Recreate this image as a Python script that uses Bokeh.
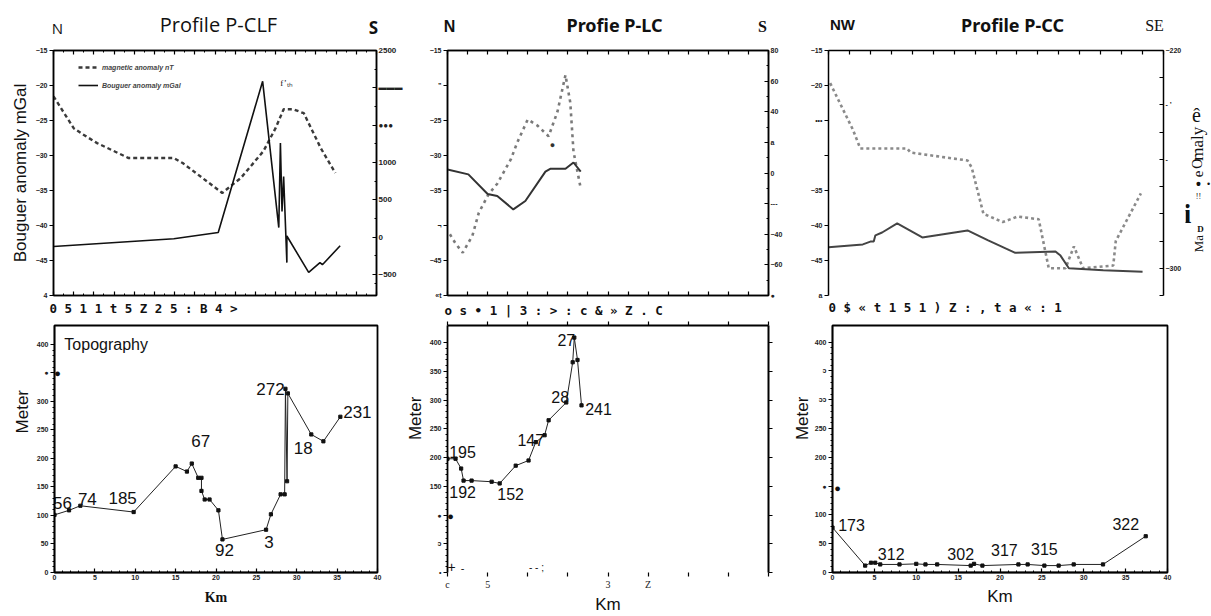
import math
from bokeh.plotting import figure
from bokeh.models import (Range1d, LinearAxis, FixedTicker, Legend, LegendItem,
                          ColumnDataSource)
from bokeh.layouts import column, row
from bokeh.embed import file_html
from bokeh.resources import INLINE
from bokeh.core.properties import value

# ------------------------------------------------------------------ data
km_ticks_top = [0, 2.5, 5, 7.5, 10, 12.5, 15, 17.5, 20, 22.5, 25, 27.5, 30, 32.5, 35, 37.5, 40]
km_ticks_bottom = [0, 5, 10, 15, 20, 25, 30, 35, 40]
mgal_ticks = [-15, -20, -25, -30, -35, -40, -45, -50]
meter_ticks = [0, 50, 100, 150, 200, 250, 300, 350, 400]

# Profile P-CLF
clf_bouguer_km = [0, 14.9, 20.4, 25.9, 27.9, 28.1, 28.3, 28.5, 28.9, 28.9, 31.6, 33.0, 33.3, 35.5]
clf_bouguer_mgal = [-43.0, -41.9, -41.0, -19.4, -40.3, -28.2, -38.0, -33.0, -45.3, -41.5,
                    -46.7, -45.3, -45.6, -42.9]
clf_mag_km = [0, 2.5, 3.6, 5.4, 9.3, 14.9, 16.0, 20.9, 23.2, 26.0, 27.5, 28.5, 29.7, 31.0, 33.1, 34.9]
clf_mag_nt = [1887, 1460, 1380, 1260, 1060, 1060, 993, 593, 793, 1153, 1460, 1713, 1713, 1660,
              1193, 860]
clf_mag_ticks = [2500, 2000, 1500, 1000, 500, 0, -500]
clf_topo_km = [0, 1.8, 3.2, 9.8, 15.0, 16.4, 17.0, 17.8, 18.2, 18.2, 18.6, 19.2, 20.3, 20.8,
               26.2, 26.8, 28.0, 28.5, 28.6, 28.8, 28.9, 31.8, 33.3, 35.4]
clf_topo_m = [101, 109, 117, 106, 186, 177, 191, 166, 166, 143, 128, 128, 109, 58,
              75, 102, 137, 137, 322, 160, 314, 242, 230, 273]
clf_station = ["56", "74", "185", "67", "92", "3", "272", "18", "231"]
clf_station_idx = [0, 2, 3, 6, 13, 14, 18, 21, 23]

# Profile P-LC
lc_bouguer_km = [0, 2.6, 5.0, 6.2, 8.2, 9.7, 12.2, 12.8, 14.7, 15.7, 16.6]
lc_bouguer_mgal = [-32.0, -32.7, -35.5, -35.8, -37.7, -36.5, -32.3, -31.9, -31.9, -31.0, -32.3]
lc_mag_km = [0.3, 1.0, 1.9, 3.1, 3.9, 5.1, 6.2, 7.9, 8.7, 10.0, 11.2, 12.6, 13.7, 14.7, 15.3,
             15.7, 16.6]
lc_mag_nt = [-40, -46, -52, -41, -26, -14, -7, 9, 20, 35, 31, 24, 40, 64, 46, 14, -10]
lc_mag_ticks = [80, 60, 40, 20, 0, -20, -40, -60, -80]
lc_topo_km = [0, 1.0, 1.7, 2.0, 3.0, 5.5, 6.5, 8.5, 10.1, 11.0, 12.1, 12.6, 14.8, 15.6, 15.8,
              16.2, 16.7]
lc_topo_m = [198, 198, 181, 160, 160, 158, 155, 186, 195, 227, 239, 265, 296, 366, 409, 370, 291]
lc_station = ["195", "192", "152", "147", "28", "27", "241"]
lc_station_idx = [1, 4, 6, 9, 12, 14, 16]

# Profile P-CC
cc_bouguer_km = [0, 4.1, 5.0, 5.4, 5.6, 6.4, 8.2, 11.2, 16.6, 19.0, 22.3, 27.1, 27.7, 28.7,
                 32.8, 37.5]
cc_bouguer_mgal = [-43.1, -42.7, -42.3, -42.3, -41.4, -41.0, -39.7, -41.7, -40.7, -42.1, -43.9,
                   -43.7, -44.3, -46.1, -46.4, -46.6]
cc_mag_km = [0.2, 2.9, 3.8, 9.4, 9.8, 16.6, 17.1, 18.5, 20.8, 22.6, 25.1, 26.3, 28.3, 29.3,
             30.4, 34.0, 34.3, 37.3]
cc_mag_nt = [-232, -249, -256, -256, -257.5, -260.4, -263, -280, -283, -281, -282, -300, -300,
             -292, -300, -299, -290, -272.5]
cc_mag_ticks = [-220, -230, -240, -250, -260, -270, -280, -290, -300, -310]
cc_topo_km = [0, 3.9, 4.6, 5.1, 5.7, 8.0, 10.0, 11.1, 12.5, 16.5, 16.9, 17.9, 22.2, 23.3, 25.3,
              27.0, 28.8, 32.3, 37.4]
cc_topo_m = [78, 12, 17, 17, 14, 14, 15, 14, 14, 12, 15, 12, 14, 14, 12, 12, 14, 14, 63]
cc_station = ["173", "312", "302", "317", "315", "322"]
cc_station_idx = [0, 3, 9, 12, 14, 18]

# ------------------------------------------------------------------ helpers
SANS = "Liberation Sans"
SERIF = "Liberation Serif"
MONO = "DejaVu Sans Mono"


def make_panel(x0, x1, y0, y1, frame, xr, yr):
    """Figure occupying page box (x0..x1, y0..y1) whose plot frame is `frame`."""
    L, T, R, B = frame
    p = figure(width=x1 - x0, height=y1 - y0, x_range=Range1d(*xr), y_range=Range1d(*yr),
               title=None, output_backend="svg", toolbar_location=None,
               x_axis_location=None, y_axis_location=None,
               min_border_left=L - x0, min_border_right=x1 - R,
               min_border_top=T - y0, min_border_bottom=y1 - B)
    p.outline_line_color = None
    p.grid.visible = False
    p.background_fill_color = "white"
    p.border_fill_color = "white"
    return {"fig": p, "frame": frame, "xr": xr, "yr": yr}


def make_band(x0, x1, y0, y1):
    """Plain text strip; its frame fills it, so coordinates are page pixels."""
    p = figure(width=x1 - x0, height=y1 - y0, x_range=Range1d(x0, x1), y_range=Range1d(y1, y0),
               title=None, output_backend="svg", toolbar_location=None,
               x_axis_location=None, y_axis_location=None, min_border=0,
               min_border_left=0, min_border_right=0, min_border_top=0, min_border_bottom=0)
    p.outline_line_color = None
    p.grid.visible = False
    p.background_fill_color = "white"
    p.border_fill_color = "white"
    return {"fig": p, "frame": (x0, y0, x1, y1), "xr": (x0, x1), "yr": (y0, y1), "band": True}


def txt(P, px, py, text, size=12, font=SANS, style="normal", color="#111111",
        align="center", baseline="middle", angle=0.0):
    if P.get("band"):
        x, y = px, py
    else:
        L, T, R, B = P["frame"]
        xr, yr = P["xr"], P["yr"]
        x = xr[0] + (px - L) / (R - L) * (xr[1] - xr[0])
        y = yr[1] - (py - T) / (B - T) * (yr[1] - yr[0])
    P["fig"].text(x=[x], y=[y], text=[text], text_font=value(font),
                  text_font_size=value(f"{size}px"), text_font_style=style,
                  text_color=color, text_align=align, text_baseline=baseline, angle=angle)


def minor_between(ticks, n):
    out = []
    t = sorted(ticks)
    for a, b in zip(t[:-1], t[1:]):
        for k in range(1, n):
            out.append(a + (b - a) * k / n)
    return out


def add_axis(P, side, ticks, minor=(), tick_in=0, tick_out=4, minor_in=0, minor_out=0,
             show_labels=True, label_size=7, overrides=None, line_width=1.5,
             y_range_name="default", label_font=SANS, label_style="bold",
             axis_label=None, al_font=SANS, al_size=15, al_style="normal", line=True,
             al_standoff=3):
    p = P["fig"]
    if side in ("left", "right"):
        ax = LinearAxis(y_range_name=y_range_name)
    else:
        ax = LinearAxis()
    ax.ticker = FixedTicker(ticks=list(ticks), minor_ticks=list(minor))
    ax.axis_line_color = "black" if line else None
    ax.axis_line_width = line_width
    ax.major_tick_line_color = "black" if (tick_in or tick_out) else None
    ax.major_tick_in = tick_in
    ax.major_tick_out = tick_out
    ax.major_tick_line_width = 1.2
    ax.minor_tick_line_color = "black" if (minor_in or minor_out) else None
    ax.minor_tick_in = minor_in
    ax.minor_tick_out = minor_out
    if show_labels:
        ax.major_label_text_font_size = f"{label_size}px"
        ax.major_label_text_font = label_font
        ax.major_label_text_font_style = label_style
        ax.major_label_text_color = "#222222"
        ax.major_label_standoff = 2
        if overrides:
            ax.major_label_overrides = overrides
    else:
        ax.major_label_overrides = {t: "" for t in ticks}
        ax.major_label_text_font_size = "1px"
        ax.major_label_text_color = None
        ax.major_label_standoff = 0
    if axis_label:
        ax.axis_label = axis_label
        ax.axis_label_text_font = al_font
        ax.axis_label_text_font_size = f"{al_size}px"
        ax.axis_label_text_font_style = al_style
        ax.axis_label_text_color = "#111111"
        ax.axis_label_standoff = al_standoff
    p.add_layout(ax, side)
    return ax


def topo_points(P, km, m, names, idx, offsets, size):
    p = P["fig"]
    p.line(km, m, line_color="#222222", line_width=1)
    p.scatter(km, m, marker="square", size=3.2, color="#111111")
    src = ColumnDataSource(dict(x=[km[i] for i in idx], y=[m[i] for i in idx], t=names,
                                dx=[o[0] for o in offsets], dy=[o[1] for o in offsets]))
    p.text(x="x", y="y", text="t", x_offset="dx", y_offset="dy", source=src,
           text_font=value(SANS), text_font_size=value(f"{size}px"), text_color="#111111",
           text_align="center", text_baseline="middle")


# ================================================================== title strip
T = make_band(0, 1211, 0, 40)
txt(T, 57, 27, "N", size=15, font="Open Sans")
txt(T, 218, 24, "Profile P-CLF", size=20, font="Open Sans")
txt(T, 373, 27, "S", size=17, font="Open Sans", style="bold")
txt(T, 449, 26, "N", size=16, style="bold")
txt(T, 614, 24, "Profie P-LC", size=18, font="Noto Sans", style="bold")
txt(T, 762, 26, "S", size=16, font=SERIF, style="bold")
txt(T, 842, 24, "NW", size=15, style="bold")
txt(T, 1012, 24, "Profile P-CC", size=18, font="Noto Sans", style="bold")
txt(T, 1154, 25, "SE", size=16, font=SERIF)

# ================================================================== top-left: P-CLF anomalies
A = make_panel(0, 410, 40, 300, (53, 49, 376, 295), (0, 40), (-50, -15))
pa = A["fig"]
pa.outline_line_color = "black"
pa.outline_line_width = 1.5
pa.extra_y_ranges = {"mag": Range1d(-780, 2500)}
add_axis(A, "left", mgal_ticks, tick_out=4, overrides={-50: "4"},
         axis_label="Bouguer anomaly mGal", al_size=17)
add_axis(A, "right", clf_mag_ticks, minor=minor_between(clf_mag_ticks + [-750], 2),
         tick_in=4, tick_out=0, minor_in=2, y_range_name="mag", label_size=8,
         overrides={2000: "\u25ac\u25ac\u25ac", 1500: "\u25cf\u25cf\u25cf"})
add_axis(A, "above", km_ticks_top, minor=minor_between(km_ticks_top, 2), tick_in=4, tick_out=0,
         minor_in=2, show_labels=False)
add_axis(A, "below", km_ticks_top, minor=minor_between(km_ticks_top, 2), tick_in=4, tick_out=0,
         minor_in=2, show_labels=False)
r_mag = pa.line(clf_mag_km, clf_mag_nt, y_range_name="mag", line_color="#3a3a3a",
                line_width=2.4, line_dash="4 3")
r_bg = pa.line(clf_bouguer_km, clf_bouguer_mgal, line_color="#111111", line_width=1.6)
leg = Legend(items=[LegendItem(label="magnetic anomaly nT", renderers=[r_mag]),
                    LegendItem(label="Bouguer anomaly mGal", renderers=[r_bg])],
             location=(25, 204), label_text_font_size="7px",
             label_text_font_style="bold italic", label_text_font=SANS,
             glyph_width=20, glyph_height=12, label_height=12, spacing=6, padding=2,
             label_standoff=4, background_fill_alpha=0, border_line_color=None)
pa.add_layout(leg)
txt(A, 286, 82, "f\u2019\u209c\u2095", size=9, font=SERIF)

# ================================================================== top-middle: P-LC anomalies
Bp = make_panel(410, 790, 40, 300, (447, 48, 768, 295), (0, 40), (-50, -15))
pb = Bp["fig"]
pb.outline_line_color = "black"
pb.outline_line_width = 1.5
pb.extra_y_ranges = {"mag": Range1d(-80, 80)}
add_axis(Bp, "left", mgal_ticks, tick_out=4,
         overrides={-20: "\u201d", -40: "\u00ac", -50: "\u00abt"})
add_axis(Bp, "right", lc_mag_ticks, minor=minor_between(lc_mag_ticks, 2), tick_in=4, tick_out=0,
         minor_in=2, y_range_name="mag", overrides={20: "a", -20: "---", -80: "\u25cf"})
add_axis(Bp, "above", km_ticks_top, tick_in=4, tick_out=0, show_labels=False)
add_axis(Bp, "below", km_ticks_top, tick_in=4, tick_out=0, show_labels=False)
pb.line(lc_mag_km, lc_mag_nt, y_range_name="mag", line_color="#7a7a7a", line_width=2.6,
        line_dash="3 4")
pb.line(lc_bouguer_km, lc_bouguer_mgal, line_color="#333333", line_width=2)
txt(Bp, 552, 143, "\u25cf", size=9, color="#333333")

# ================================================================== top-right: P-CC anomalies
C = make_panel(790, 1185, 40, 300, (828, 50, 1163, 295), (0, 40), (-50, -15))
pc = C["fig"]
pc.extra_y_ranges = {"mag": Range1d(-310, -220)}
add_axis(C, "left", mgal_ticks, tick_out=4, overrides={-25: "\u2022\u2022\u2022", -30: "",
                                                       -50: "a"})
cc_over = {t: "" for t in cc_mag_ticks if t not in (-220, -300)}
cc_over.update({-240: "- \u2019", -260: "-"})
add_axis(C, "right", cc_mag_ticks, tick_in=4, tick_out=0, y_range_name="mag",
         overrides=cc_over)
add_axis(C, "above", km_ticks_top, tick_in=4, tick_out=0, show_labels=False)
pc.line(cc_mag_km, cc_mag_nt, y_range_name="mag", line_color="#8a8a8a", line_width=2.6,
        line_dash="3 3")
pc.line(cc_bouguer_km, cc_bouguer_mgal, line_color="#444444", line_width=2)

# strip right of P-CC (garbled magnetic axis title)
R3 = make_band(1185, 1211, 40, 300)
txt(R3, 1196, 108, "\u00ea", size=20, font=SERIF)
txt(R3, 1197, 139, "maly", size=17, font=SERIF, angle=math.pi / 2)
txt(R3, 1197, 160, "O", size=14, font=SERIF, angle=math.pi / 2)
txt(R3, 1197, 171, "e", size=15, font=SERIF, angle=math.pi / 2)
txt(R3, 1198, 182, "\u2022", size=14, style="bold")
txt(R3, 1208, 182, "\u2022", size=9)
txt(R3, 1198, 195, "!!", size=8, font=SERIF)
txt(R3, 1187, 213, "i", size=28, font=SERIF, style="bold")
txt(R3, 1200, 229, "D", size=9, font=SERIF, style="bold")
txt(R3, 1198, 245, "Ma", size=13, font=SERIF, angle=math.pi / 2)

# ================================================================== middle strip (x tick labels)
M = make_band(0, 1211, 300, 318)
txt(M, 49, 308, "0 5 1 1 t 5 Z 2 5   : B 4 >", size=12.5, font=MONO, style="bold",
    align="left")
txt(M, 444, 310, "o s \u2022 1 | 3 : > : c & \u00bb Z . C", size=12.5, font=MONO,
    style="bold", align="left")
txt(M, 828, 307, "0 $ \u00ab t 1 5 1 ) Z : , t a \u00ab : 1", size=12.5, font=MONO,
    style="bold", align="left")

# ================================================================== bottom row
B0 = make_band(0, 33, 318, 616)
txt(B0, 22, 422, "Meter", size=17, angle=math.pi / 2)

D = make_panel(33, 403, 318, 616, (52, 323, 377, 577), (0, 40), (0, 433))
pd_ = D["fig"]
pd_.outline_line_color = "black"
pd_.outline_line_width = 1.8
add_axis(D, "left", meter_ticks, minor=minor_between(meter_ticks, 5), tick_out=4, minor_out=2,
         overrides={350: "\u25cf"})
add_axis(D, "below", km_ticks_bottom, minor=minor_between(km_ticks_bottom, 5), tick_in=4,
         tick_out=0, minor_in=2, axis_label="Km", al_font=SERIF, al_size=14, al_style="bold",
         al_standoff=7)
topo_points(D, clf_topo_km, clf_topo_m, clf_station, clf_station_idx,
            [(8, -12), (7, -7), (-11, -14), (9, -23), (2, 11), (3, 12), (-15, 0), (-8, 14),
             (17, -5)], 17)
txt(D, 104, 343, "Topography", size=16)
txt(D, 55, 372, "\u25cf", size=11)

B1 = make_band(403, 425, 318, 616)
txt(B1, 415, 430, "Meter", size=17, angle=math.pi / 2)

E = make_panel(425, 790, 318, 616, (447, 325, 768, 577), (0, 40), (0, 430))
pe = E["fig"]
add_axis(E, "left", meter_ticks, minor=minor_between(meter_ticks, 5), tick_out=4, minor_out=2,
         overrides={100: "\u25cf", 50: "\u0254", 0: "\u2022"}, line_width=1.8)
add_axis(E, "below", km_ticks_bottom, label_font=SERIF, label_style="normal", label_size=10,
         overrides={10: "", 15: "", 30: "", 35: "", 40: "", 0: "c", 20: "3", 25: "Z"},
         line=False, axis_label="Km", al_size=17, al_standoff=2)
add_axis(E, "above", km_ticks_bottom, show_labels=False, line_width=2)
add_axis(E, "right", meter_ticks, show_labels=False, line_width=2)
topo_points(E, lc_topo_km, lc_topo_m, lc_station, lc_station_idx,
            [(7, -7), (-9, 11), (11, 11), (-5, -2), (-6, -5), (-8, 2), (17, 4)], 16)
txt(E, 450, 519, "\u25cf", size=11)
txt(E, 451, 571, "+", size=14)
txt(E, 462, 572, "-", size=11)
txt(E, 536, 572, "- - ;", size=10)

B2 = make_band(790, 811, 318, 616)
txt(B2, 802, 430, "Meter", size=17, angle=math.pi / 2)

F = make_panel(811, 1211, 318, 616, (829, 323, 1167, 576), (0, 40), (0, 429))
pf = F["fig"]
pf.outline_line_color = "black"
pf.outline_line_width = 1.8
add_axis(F, "left", meter_ticks, minor=minor_between(meter_ticks, 5), tick_out=4, minor_out=2,
         overrides={350: "\u0254", 300: "\u0254\u0254", 150: "\u25cf"})
add_axis(F, "below", km_ticks_bottom, minor=minor_between(km_ticks_bottom, 5), tick_in=4,
         tick_out=0, minor_in=2, axis_label="Km", al_size=17, al_standoff=4)
topo_points(F, cc_topo_km, cc_topo_m, cc_station, cc_station_idx,
            [(19, -3), (16, -9), (-10, -12), (-14, -14), (0, -17), (-20, -12)], 16)
txt(F, 834, 489, "\u25cf", size=11)

layout = column(
    T["fig"],
    row(A["fig"], Bp["fig"], C["fig"], R3["fig"]),
    M["fig"],
    row(B0["fig"], D["fig"], B1["fig"], E["fig"], B2["fig"], F["fig"]),
)
open("out.html", "w").write(file_html(layout, INLINE))
